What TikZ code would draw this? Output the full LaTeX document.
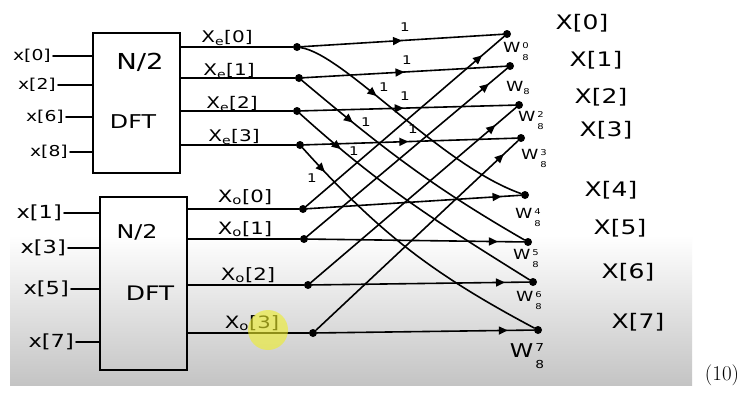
\documentclass[tikz,border=0pt]{standalone}
\usepackage{fontspec}
\newfontfamily\hand[FakeStretch=1.25]{DejaVu Sans}
\usetikzlibrary{arrows.meta,decorations.markings}
\definecolor{bgbottom}{RGB}{196,196,196}
\definecolor{hilite}{RGB}{238,238,40}
\newcommand{\twid}[3]{W\hspace{2pt}\raisebox{-2pt}{\fontsize{#2}{#3}\selectfont\begin{tabular}{@{}c@{}}#1\\8\end{tabular}}}
\begin{document}
\begin{tikzpicture}[x=1pt,y=1pt,
  wire/.style={line width=1.6pt, line cap=round},
  dot/.style={circle, fill=black, inner sep=0pt, minimum size=8pt},
  blockbox/.style={draw, line width=1.6pt, inner sep=0pt},
  inlabA/.style={font=\hand\fontsize{15}{15}\selectfont, inner sep=2pt, anchor=east},
  inlabB/.style={font=\hand\fontsize{18}{18}\selectfont, inner sep=2pt, anchor=east},
  midlab/.style={font=\hand\fontsize{16}{16}\selectfont, inner sep=0pt},
  midlabB/.style={font=\hand\fontsize{17}{17}\selectfont, inner sep=0pt},
  boxtxt/.style={font=\hand\fontsize{#1}{#1}\selectfont, inner sep=0pt},
  outlab/.style={font=\hand\fontsize{20}{20}\selectfont, inner sep=0pt},
  onelab/.style={font=\hand\fontsize{12}{12}\selectfont, inner sep=0pt},
  wlab/.style={font=\hand\fontsize{#1}{#1}\selectfont, inner sep=0pt},
  midarrow/.style={postaction={decorate}, decoration={markings,
      mark=at position #1 with {\arrow{Triangle[length=9pt,width=8pt]}}}}
]
\useasboundingbox (0,0) rectangle (746,-394);
\fill[white] (0,0) rectangle (746,-394);
\shade[top color=white, bottom color=bgbottom] (10,-235) rectangle (692,-385);

% blocks
\node[blockbox, minimum width=87pt, minimum height=140pt] (ubox) at (136.5,-103) {};
\node[blockbox, minimum width=87pt, minimum height=173pt] (lbox) at (143.5,-283.5) {};
\node[boxtxt=22] (un) at (140,-62) {N/2};
\node[boxtxt=19] (ud) at (133,-122) {DFT};
\node[boxtxt=19] (ln) at (137,-232) {N/2};
\node[boxtxt=20] (ld) at (150,-293) {DFT};

% inputs
\node[inlabA] (lx0) at (53,-56) {x[0]};
\node[inlabA] (lx2) at (58,-85) {x[2]};
\node[inlabA] (lx6) at (66,-117) {x[6]};
\node[inlabA] (lx8) at (70,-152) {x[8]};
\node[inlabB] (lx1) at (64,-213) {x[1]};
\node[inlabB] (lx3) at (68,-248) {x[3]};
\node[inlabB] (lx5) at (71,-289) {x[5]};
\node[inlabB] (lx7) at (76,-342) {x[7]};
\foreach \n in {lx0,lx2,lx6,lx8}{\draw[wire] (\n.east) -- (\n.east -| ubox.west);}
\foreach \n in {lx1,lx3,lx5,lx7}{\draw[wire] (\n.east) -- (\n.east -| lbox.west);}

% butterfly input dots
\node[dot] (e0) at (297,-47) {};
\node[dot] (e1) at (299,-78) {};
\node[dot] (e2) at (297,-111) {};
\node[dot] (e3) at (300,-145) {};
\node[dot] (o0) at (303,-209) {};
\node[dot] (o1) at (304,-239) {};
\node[dot] (o2) at (308,-285) {};
\node[dot] (o3) at (313,-333) {};
\foreach \n in {e0,e1,e2,e3}{\draw[wire] (\n -| ubox.east) -- (\n);}
\foreach \n in {o0,o1,o2,o3}{\draw[wire] (\n -| lbox.east) -- (\n);}

% block output labels
\node[midlab] (le0) at (227,-38) {X\textsubscript{e}[0]};
\node[midlab] (le1) at (229,-71) {X\textsubscript{e}[1]};
\node[midlab] (le2) at (232,-104) {X\textsubscript{e}[2]};
\node[midlab] (le3) at (234,-137) {X\textsubscript{e}[3]};
\node[midlabB] (lo0) at (245,-197) {X\textsubscript{o}[0]};
\node[midlabB] (lo1) at (245,-229) {X\textsubscript{o}[1]};
\node[midlabB] (lo2) at (248,-275) {X\textsubscript{o}[2]};
\node[midlabB] (lo3) at (252,-323) {X\textsubscript{o}[3]};

% output dots
\node[dot] (n0) at (507,-34) {};
\node[dot] (n1) at (510,-66) {};
\node[dot] (n2) at (519,-105) {};
\node[dot] (n3) at (521,-138) {};
\node[dot] (n4) at (525,-195) {};
\node[dot] (n5) at (528,-242) {};
\node[dot] (n6) at (533,-282) {};
\node[dot] (n7) at (538,-330) {};

% straight branches (weight 1)
\draw[wire, midarrow=0.5] (e0) -- (n0);
\draw[wire, midarrow=0.5] (e1) -- (n1);
\draw[wire, midarrow=0.48] (e2) -- (n2);
\draw[wire, midarrow=0.49] (e3) -- (n3);
% crossing branches down (weight 1)
\draw[wire, midarrow=0.34] (e0) .. controls (345,-55) and (440,-165) .. (n4);
\draw[wire, midarrow=0.24] (e1) to[out=-40,in=150] (n5);
\draw[wire, midarrow=0.19] (e2) to[out=-42,in=148] (n6);
\draw[wire, midarrow=0.11] (e3) to[out=-48,in=152] (n7);
% crossing branches up (twiddles)
\draw[wire, midarrow=0.89] (o0) -- (n0);
\draw[wire, midarrow=0.91] (o1) -- (n1);
\draw[wire, midarrow=0.9] (o2) -- (n2);
\draw[wire, midarrow=0.93] (o3) -- (n3);
% straight lower branches (twiddles)
\draw[wire, midarrow=0.91] (o0) -- (n4);
\draw[wire, midarrow=0.88] (o1) -- (n5);
\draw[wire, midarrow=0.89] (o2) -- (n6);
\draw[wire, midarrow=0.88] (o3) -- (n7);

% weight "1" labels
\node[onelab] (w1a) at (405,-27) {1};
\node[onelab] (w1b) at (407,-60) {1};
\node[onelab] (w1c) at (405,-96) {1};
\node[onelab] (w1d) at (413,-129) {1};
\node[onelab] (w1e) at (384,-87) {1};
\node[onelab] (w1f) at (366,-122) {1};
\node[onelab] (w1g) at (354,-151) {1};
\node[onelab] (w1h) at (312,-178) {1};

% twiddle labels
\node[wlab=14] (tw0) at (516,-52) {\twid{0}{8}{12}};
\node[wlab=14] (tw1) at (518,-88) {W\raisebox{-3pt}{\fontsize{8}{8}\selectfont 8}};
\node[wlab=14] (tw2) at (531,-121) {\twid{2}{8}{12}};
\node[wlab=14] (tw3) at (534,-159) {\twid{3}{8}{12}};
\node[wlab=14] (tw4) at (528,-218) {\twid{4}{8}{12}};
\node[wlab=14] (tw5) at (526,-259) {\twid{5}{8}{12}};
\node[wlab=14] (tw6) at (529,-301) {\twid{6}{8}{12}};
\node[wlab=19] (tw7) at (527,-357) {\twid{7}{11}{17}};

% outputs
\node[outlab] (X0) at (582,-23) {X[0]};
\node[outlab] (X1) at (596,-60) {X[1]};
\node[outlab] (X2) at (601,-97) {X[2]};
\node[outlab] (X3) at (606,-130) {X[3]};
\node[outlab] (X4) at (611,-190) {X[4]};
\node[outlab] (X5) at (620,-228) {X[5]};
\node[outlab] (X6) at (628,-272) {X[6]};
\node[outlab] (X7) at (638,-322) {X[7]};

% highlight
\fill[hilite, opacity=0.6] (268,-330) circle (20);

% equation number
\node[font=\fontsize{21}{21}\selectfont, inner sep=0pt] (eqn) at (722,-375) {(10)};
\end{tikzpicture}
\end{document}
